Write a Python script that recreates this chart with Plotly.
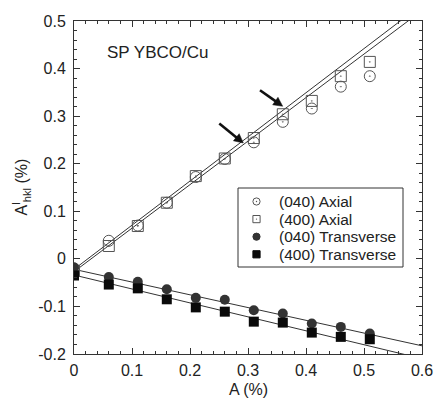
import numpy as np
import plotly.graph_objects as go

# ---- data ----
strain_A = [0.0, 0.06, 0.11, 0.16, 0.21, 0.26, 0.31, 0.36, 0.41, 0.46, 0.51]
axial_040 = [-0.020, 0.038, 0.070, 0.118, 0.172, 0.210, 0.245, 0.288, 0.316, 0.362, 0.384]
axial_400 = [-0.025, 0.027, 0.069, 0.118, 0.174, 0.211, 0.254, 0.304, 0.332, 0.384, 0.414]
trans_040 = [-0.018, -0.038, -0.048, -0.064, -0.082, -0.086, -0.108, -0.115, -0.136, -0.143, -0.157]
trans_400 = [-0.035, -0.054, -0.062, -0.085, -0.102, -0.111, -0.132, -0.134, -0.155, -0.164, -0.169]

# linear fit lines (slope, intercept)
fit_slopes = [0.928, 0.915, -0.268, -0.293]
fit_intercepts = [-0.022, -0.027, -0.022, -0.034]
fit_range = [0.0, 0.6]

series_names = ["(040) Axial", "(400) Axial", "(040) Transverse", "(400) Transverse"]

x_tick_vals = [0, 0.1, 0.2, 0.3, 0.4, 0.5, 0.6]
x_tick_text = ["0", "0.1", "0.2", "0.3", "0.4", "0.5", "0.6"]
y_tick_vals = [-0.2, -0.1, 0, 0.1, 0.2, 0.3, 0.4, 0.5]
y_tick_text = ["-0.2", "-0.1", "0", "0.1", "0.2", "0.3", "0.4", "0.5"]

# arrows: (tail A, tail value, head A, head value)
arrow_tails = [(0.2505, 0.2845), (0.3207, 0.3544)]
arrow_heads = [(0.2919, 0.2437), (0.3598, 0.3208)]

FONT = "Liberation Sans, Arial, Helvetica, sans-serif"
TXT = "#222222"
W, H = 434, 398
ML, MR, MT, MB = 74, 12, 21, 44
XR, YR = [0, 0.6], [-0.2, 0.5]
PW, PH = W - ML - MR, H - MT - MB
sx, sy = PW / (XR[1] - XR[0]), PH / (YR[1] - YR[0])


def px2paper_x(px):
    return (px - ML) / PW


def py2paper_y(py):
    return (H - MB - py) / PH


fig = go.Figure()

# fit lines
fx = np.array(fit_range)
for s, b in zip(fit_slopes, fit_intercepts):
    fig.add_trace(go.Scatter(x=fx, y=s * fx + b, mode="lines",
                             line=dict(color="#333333", width=1),
                             showlegend=False, hoverinfo="skip"))

styles = [
    dict(symbol="circle-open-dot", size=11, color="#555555", line=dict(width=1, color="#555555")),
    dict(symbol="square-open-dot", size=11, color="#555555", line=dict(width=1, color="#555555")),
    dict(symbol="circle", size=10, color="#333333", line=dict(width=0)),
    dict(symbol="square", size=10, color="#0a0a0a", line=dict(width=0)),
]
for name, ys, st in zip(series_names, [axial_040, axial_400, trans_040, trans_400], styles):
    fig.add_trace(go.Scatter(x=strain_A, y=ys, mode="markers", name=name, marker=st,
                             showlegend=False))

axis_common = dict(
    showgrid=False, zeroline=False, showline=True, linecolor="#333333", linewidth=1,
    mirror="ticks", ticks="inside", ticklen=6, tickwidth=1, tickcolor="#333333",
    tickfont=dict(size=16, family=FONT, color=TXT), automargin=False,
)

fig.update_xaxes(range=XR, tickmode="array", tickvals=x_tick_vals, ticktext=x_tick_text,
                 minor=dict(dtick=0.02, tick0=0, ticks="inside", ticklen=3, tickcolor="#333333"),
                 ticklabelstandoff=2, **axis_common)
fig.update_yaxes(range=YR, tickmode="array", tickvals=y_tick_vals, ticktext=y_tick_text,
                 minor=dict(dtick=0.02, tick0=0, ticks="inside", ticklen=3, tickcolor="#333333"),
                 ticklabelstandoff=4, **axis_common)

# axis titles
fig.add_annotation(x=px2paper_x(21), y=0.5, xref="paper", yref="paper",
                   text="A<sup>l</sup><sub>hkl</sub> (%)", textangle=-90, showarrow=False,
                   xanchor="center", yanchor="middle",
                   font=dict(size=16, family=FONT, color=TXT))
fig.add_annotation(x=0.5, y=py2paper_y(389.5), xref="paper", yref="paper",
                   text="A (%)", showarrow=False, xanchor="center", yanchor="middle",
                   font=dict(size=16, family=FONT, color=TXT))

fig.add_annotation(x=0.053, y=0.434, xref="x", yref="y", text="SP YBCO/Cu", showarrow=False,
                   xanchor="left", yanchor="middle", font=dict(size=17, family=FONT, color=TXT))

shapes = []
# arrows pointing at the fit line (shaft + filled head)
HL, HW = 9.0, 4.6
for (tx, ty), (hx, hy) in zip(arrow_tails, arrow_heads):
    dx, dy = (hx - tx) * sx, (hy - ty) * sy
    n = np.hypot(dx, dy)
    ux, uy = dx / n, dy / n
    bx, by = hx - (HL - 1) * ux / sx, hy - (HL - 1) * uy / sy
    shapes.append(dict(type="line", xref="x", yref="y", x0=tx, y0=ty, x1=bx, y1=by,
                       line=dict(color="#111111", width=2.6)))
    p1 = (-HL * ux - HW * uy, -HL * uy + HW * ux)
    p2 = (-HL * ux + HW * uy, -HL * uy - HW * ux)
    path = f"M 0,0 L {p1[0]:.2f},{p1[1]:.2f} L {p2[0]:.2f},{p2[1]:.2f} Z"
    shapes.append(dict(type="path", xref="x", yref="y", xsizemode="pixel", ysizemode="pixel",
                       xanchor=hx, yanchor=hy, path=path,
                       fillcolor="#111111", line=dict(color="#111111", width=0.5)))

# legend box
LX0, LX1, LY0, LY1 = 238, 403, 188, 267
shapes.append(dict(type="rect", xref="paper", yref="paper",
                   x0=px2paper_x(LX0), x1=px2paper_x(LX1), y0=py2paper_y(LY1), y1=py2paper_y(LY0),
                   line=dict(color="#333333", width=1), fillcolor="rgba(0,0,0,0)"))
row_y = [201.5 + 17.6 * i for i in range(4)]
mk_x = px2paper_x(256.5)
txt_x = px2paper_x(276.5)
legend_marks = [
    ("circle", "rgba(0,0,0,0)", "#555555", True),
    ("rect", "rgba(0,0,0,0)", "#555555", True),
    ("circle", "#333333", "#333333", False),
    ("rect", "#0a0a0a", "#0a0a0a", False),
]
for (kind, fill, lc, dot), ry, name in zip(legend_marks, row_y, series_names):
    r = 3.6
    yp = py2paper_y(ry)
    shapes.append(dict(type=kind, xref="paper", yref="paper", xsizemode="pixel", ysizemode="pixel",
                       xanchor=mk_x, yanchor=yp, x0=-r, x1=r, y0=-r, y1=r,
                       fillcolor=fill, line=dict(color=lc, width=1)))
    if dot:
        shapes.append(dict(type="circle", xref="paper", yref="paper", xsizemode="pixel",
                           ysizemode="pixel", xanchor=mk_x, yanchor=yp, x0=-0.7, x1=0.7,
                           y0=-0.7, y1=0.7, fillcolor="#555555", line=dict(width=0)))
    fig.add_annotation(x=txt_x, y=yp, xref="paper", yref="paper", text=name, showarrow=False,
                       xanchor="left", yanchor="middle",
                       font=dict(size=15.5, family=FONT, color=TXT))

fig.update_layout(
    width=W, height=H,
    margin=dict(l=ML, r=MR, t=MT, b=MB, autoexpand=False),
    plot_bgcolor="white", paper_bgcolor="white",
    font=dict(family=FONT, size=16, color=TXT),
    showlegend=False,
    shapes=shapes,
)

fig.write_html("out.html")
